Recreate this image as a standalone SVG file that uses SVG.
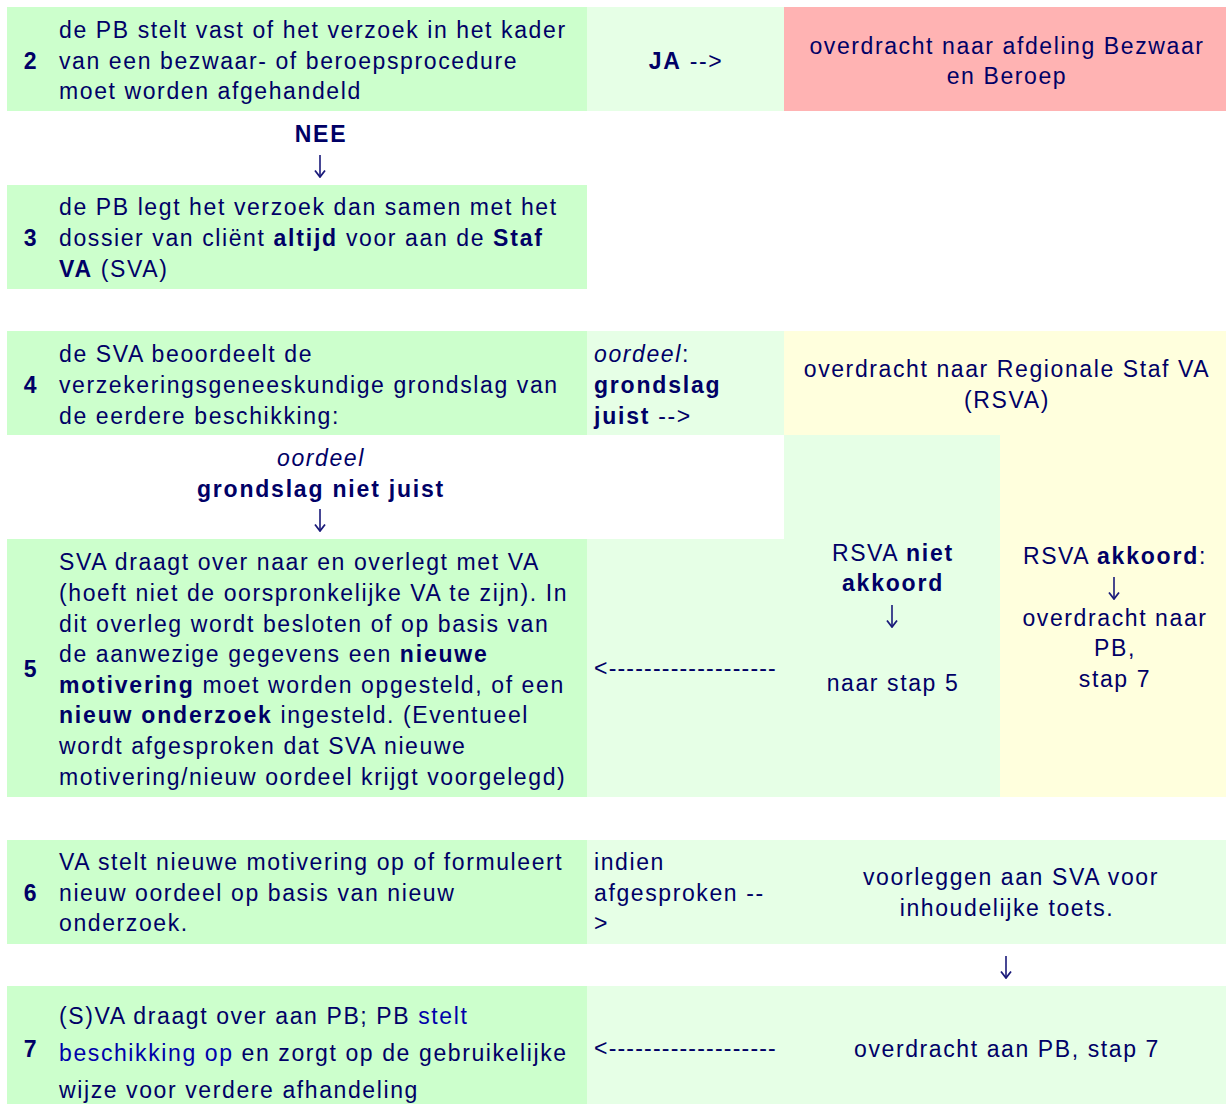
<svg xmlns="http://www.w3.org/2000/svg" width="1226" height="1104" viewBox="0 0 1226 1104">
<style>
text{font-family:"Liberation Sans",Arial,sans-serif;font-size:23px;fill:#000066;letter-spacing:1.6px}
.b{font-weight:bold;letter-spacing:1.8px}
.i{font-style:italic}
.c{text-anchor:middle}
.d{letter-spacing:1.2px}
.g1{fill:#ccffcc}
.g2{fill:#e6ffe6}
.pk{fill:#ffb3b3}
.yl{fill:#ffffdd}
.bl{fill:#0000aa}
.arr{stroke:#1a1a7a;stroke-width:1.6;fill:none;marker-end:url(#ah)}
</style>
<defs>
<marker id="ah" viewBox="0 0 12 9" refX="6" refY="8" markerWidth="12" markerHeight="9" markerUnits="userSpaceOnUse" orient="0">
<path d="M1,1.5 L6,8 L11,1.5" fill="none" stroke="#1a1a7a" stroke-width="1.8"/>
</marker>
</defs>
<rect width="1226" height="1104" fill="#ffffff"/>
<g id="step2">
<rect class="g1" x="7" y="7" width="580" height="104"/>
<text class="b c" x="31" y="69">2</text>
<text x="59" y="38">de PB stelt vast of het verzoek in het kader</text>
<text x="59" y="69">van een bezwaar- of beroepsprocedure</text>
<text x="59" y="99">moet worden afgehandeld</text>
</g>
<g id="ja">
<rect class="g2" x="587" y="7" width="197" height="104"/>
<text class="c" x="686" y="69"><tspan class="b">JA</tspan> --&gt;</text>
</g>
<g id="bezwaar">
<rect class="pk" x="784" y="7" width="442" height="104"/>
<text class="c" x="1007" y="54">overdracht naar afdeling Bezwaar</text>
<text class="c" x="1007" y="84">en Beroep</text>
</g>
<g id="step3">
<rect class="g1" x="7" y="185" width="580" height="104"/>
<text class="b c" x="31" y="246">3</text>
<text x="59" y="215">de PB legt het verzoek dan samen met het</text>
<text x="59" y="246">dossier van cliënt <tspan class="b">altijd</tspan> voor aan de <tspan class="b">Staf</tspan></text>
<text x="59" y="277"><tspan class="b">VA</tspan> (SVA)</text>
</g>
<g id="step4">
<rect class="g1" x="7" y="331" width="580" height="104"/>
<text class="b c" x="31" y="393">4</text>
<text x="59" y="362">de SVA beoordeelt de</text>
<text x="59" y="393">verzekeringsgeneeskundige grondslag van</text>
<text x="59" y="424">de eerdere beschikking:</text>
</g>
<g id="juist">
<rect class="g2" x="587" y="331" width="197" height="104"/>
<text x="594" y="362"><tspan class="i">oordeel</tspan>:</text>
<text class="b" x="594" y="393">grondslag</text>
<text x="594" y="424"><tspan class="b">juist</tspan> --&gt;</text>
</g>
<g id="rsva">
<rect class="yl" x="784" y="331" width="442" height="104"/>
<text class="c" x="1007" y="377">overdracht naar Regionale Staf VA</text>
<text class="c" x="1007" y="408">(RSVA)</text>
</g>
<g id="rsva-niet-akkoord">
<rect class="g2" x="784" y="435" width="216" height="362"/>
<text class="c" x="893" y="561">RSVA <tspan class="b">niet</tspan></text>
<text class="c b" x="893" y="591">akkoord</text>
<text class="c" x="893" y="691">naar stap 5</text>
</g>
<g id="rsva-akkoord">
<rect class="yl" x="1000" y="435" width="226" height="362"/>
<text class="c" x="1115" y="564">RSVA <tspan class="b">akkoord</tspan>:</text>
<text class="c" x="1115" y="626">overdracht naar</text>
<text class="c" x="1115" y="656">PB,</text>
<text class="c" x="1115" y="687">stap 7</text>
</g>
<g id="step5">
<rect class="g1" x="7" y="539" width="580" height="258"/>
<text class="b c" x="31" y="677">5</text>
<text x="59" y="570">SVA draagt over naar en overlegt met VA</text>
<text x="59" y="601">(hoeft niet de oorspronkelijke VA te zijn). In</text>
<text x="59" y="632">dit overleg wordt besloten of op basis van</text>
<text x="59" y="662">de aanwezige gegevens een <tspan class="b">nieuwe</tspan></text>
<text x="59" y="693"><tspan class="b">motivering</tspan> moet worden opgesteld, of een</text>
<text x="59" y="723"><tspan class="b">nieuw onderzoek</tspan> ingesteld. (Eventueel</text>
<text x="59" y="754">wordt afgesproken dat SVA nieuwe</text>
<text x="59" y="785">motivering/nieuw oordeel krijgt voorgelegd)</text>
</g>
<g id="back5">
<rect class="g2" x="587" y="539" width="197" height="258"/>
</g>
<g id="step6">
<rect class="g1" x="7" y="840" width="580" height="104"/>
<text class="b c" x="31" y="901">6</text>
<text x="59" y="870">VA stelt nieuwe motivering op of formuleert</text>
<text x="59" y="901">nieuw oordeel op basis van nieuw</text>
<text x="59" y="931">onderzoek.</text>
</g>
<g id="voorleggen">
<rect class="g2" x="587" y="840" width="639" height="104"/>
<text x="594" y="870">indien</text>
<text x="594" y="901">afgesproken --</text>
<text x="594" y="931">&gt;</text>
<text class="c" x="1011" y="885">voorleggen aan SVA voor</text>
<text class="c" x="1007" y="916">inhoudelijke toets.</text>
</g>
<g id="step7">
<rect class="g1" x="7" y="986" width="580" height="118"/>
<text class="b c" x="31" y="1057">7</text>
<text x="59" y="1024">(S)VA draagt over aan PB; PB <tspan class="bl">stelt</tspan></text>
<text x="59" y="1061"><tspan class="bl">beschikking op</tspan> en zorgt op de gebruikelijke</text>
<text x="59" y="1098">wijze voor verdere afhandeling</text>
</g>
<g id="overdracht-pb">
<rect class="g2" x="587" y="986" width="639" height="118"/>
<text class="c" x="1007" y="1057">overdracht aan PB, stap 7</text>
</g>
<g id="connectors">
<text class="c b" x="321" y="142">NEE</text>
<line class="arr" x1="320" y1="155" x2="320" y2="177"/>
<text class="c i" x="321" y="466">oordeel</text>
<text class="c b" x="321" y="497">grondslag niet juist</text>
<line class="arr" x1="320" y1="509" x2="320" y2="531"/>
<line class="arr" x1="892" y1="605" x2="892" y2="627"/>
<line class="arr" x1="1114" y1="577" x2="1114" y2="599"/>
<text class="d" x="594" y="676">&lt;-------------------</text>
<line class="arr" x1="1006" y1="956" x2="1006" y2="978"/>
<text class="d" x="594" y="1056">&lt;-------------------</text>
</g>
</svg>
